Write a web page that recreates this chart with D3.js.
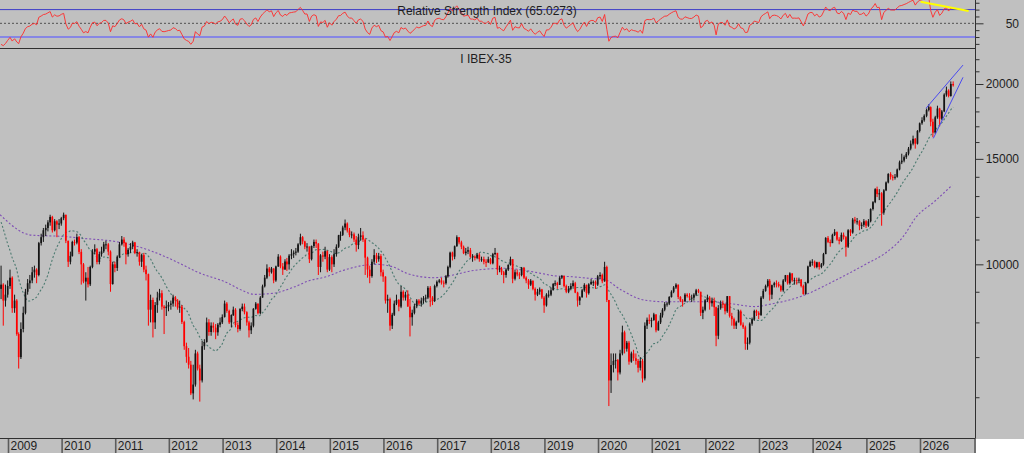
<!DOCTYPE html>
<html>
<head>
<meta charset="utf-8">
<title>IBEX-35</title>
<script src="https://cdnjs.cloudflare.com/ajax/libs/d3/7.8.5/d3.min.js"></script>
<style>
  html, body { margin: 0; padding: 0; background: #ffffff; overflow: hidden; }
  .chart svg { display: block; font-family: "Liberation Sans", Arial, sans-serif; }
</style>
</head>
<body>
<div class="chart"></div>
<script>
//semi-monthly candles (two per month), nov 2008 - aug 2026
//apr - oct 2008 closes, only used to warm up the indicators
var priorCloses = [13300, 13800, 13900, 13600, 12800, 12000, 11400, 11900, 11800, 11700, 11400, 11000, 9500, 9100];

var closes = [
  9250, 8700, 8900, 9200,
  9500, 8450, 8700, 7650, 7000, 7800, 8300, 9000, 9300, 9400, 9700, 9800,
  9600, 10850, 11100, 11400, 11500, 11750, 12000, 11400, 11800, 11650, 11700, 11940,
  12100, 10950, 10100, 10330, 10900, 10870, 11100, 10490, 10000, 9360, 9500, 9260,
  9900, 10500, 10600, 10090, 10400, 10510, 10800, 10800, 10500, 9270, 10000, 9860,
  10300, 10800, 11000, 10850, 10400, 10580, 10700, 10880, 10450, 10480, 10100, 10360,
  9800, 9630, 8400, 8720, 8000, 8550, 8800, 8950, 8500, 8450, 8500, 8560,
  8600, 8800, 8700, 8470, 8500, 8010, 7300, 7010, 6800, 6090, 6300, 7100,
  6700, 6400, 7300, 7420, 8000, 7710, 7900, 7840, 7700, 7930, 8000, 8170,
  8600, 8360, 8000, 8230, 8400, 7920, 7800, 8420, 8500, 8320, 8000, 7760,
  7900, 8430, 8600, 8290, 8800, 9190, 9500, 9840, 9700, 9840, 9400, 9920,
  10300, 9920, 9800, 10110, 10000, 10340, 10400, 10460, 10500, 10800, 11100, 10920,
  10700, 10710, 10200, 10730, 10900, 10830, 9900, 10350, 10300, 10520, 9800, 10280,
  10000, 10400, 10700, 11180, 11200, 11520, 11700, 11390, 11200, 11220, 11000, 10770,
  11100, 11180, 11000, 10260, 9800, 9560, 10100, 10360, 10200, 10320, 9700, 9540,
  8700, 8750, 7900, 8240, 8600, 8720, 8500, 9000, 8800, 8900, 8500, 8160,
  8300, 8510, 8700, 8600, 8700, 8780, 8800, 9140, 8800, 8690, 9200, 9350,
  9400, 9320, 9300, 9550, 9900, 10460, 10300, 10720, 11100, 10880, 10700, 10440,
  10500, 10560, 10300, 10300, 10250, 10380, 10200, 10200, 10100, 10080, 10200, 10040,
  10400, 10450, 9800, 9840, 9700, 9600, 9800, 9980, 10200, 9460, 9700, 9620,
  9600, 9870, 9500, 9400, 9250, 9390, 9100, 8900, 9000, 9080, 8800, 8540,
  8900, 8900, 9050, 9280, 9300, 9240, 9500, 9570, 9200, 9000, 9100, 9200,
  9300, 8970, 8700, 8810, 9050, 9240, 8950, 9260, 9350, 9350, 9250, 9550,
  9600, 9370, 9900, 8720, 6400, 6790, 6900, 6920, 6600, 7100, 7700, 7230,
  7400, 6880, 7100, 6970, 6900, 6720, 6900, 6450, 7900, 8080, 8050, 8070,
  8250, 7760, 8000, 8220, 8400, 8580, 8600, 8820, 9000, 9150, 9250, 8820,
  8700, 8680, 8900, 8850, 8800, 8800, 8900, 9050, 9000, 8300, 8400, 8710,
  8800, 8610, 8700, 8480, 7600, 8450, 8600, 8580, 8350, 8850, 8200, 8100,
  7900, 8000, 8350, 7930, 7850, 7370, 7400, 7960, 8100, 8360, 8300, 8230,
  8800, 9030, 9200, 9390, 8900, 9230, 9300, 9270, 9200, 9050, 9400, 9590,
  9300, 9660, 9400, 9410, 9400, 9430, 9200, 8920, 9300, 9920, 10100, 10100,
  9900, 10080, 9900, 10000, 10400, 11070, 10900, 10850, 11200, 11320, 11000, 10940,
  11200, 11100, 10700, 11400, 11300, 11880, 11800, 11800, 11600, 11640, 11800, 11600,
  11800, 12370, 12700, 13350, 13100, 13140, 12200, 13290, 13700, 14150, 14000, 13990,
  14000, 14400, 14800, 14900, 15100, 15300, 15600, 15900, 16200, 15900, 16700, 17200,
  17400, 17700, 18100, 18300, 17300, 16600, 17600, 18200, 17500, 18000, 19200, 19500, 19100, 20000, 19900
];

var highs = [
  9950, 9300, 9250, 9400,
  9800, 9550, 8900, 8750, 7700, 8000, 8500, 9100, 9450, 9600, 9900, 9950,
  9850, 10900, 11250, 11500, 11650, 11850, 12100, 12050, 11900, 11850, 11900, 12000,
  12200, 12100, 10950, 10500, 10950, 11000, 11250, 11150, 10600, 10050, 9700, 9900,
  9950, 10600, 10800, 10650, 10500, 10700, 10900, 10950, 10850, 10550, 10100, 10100,
  10350, 10900, 11150, 11100, 10900, 10650, 10850, 10950, 10900, 10600, 10500, 10400,
  10450, 9950, 9650, 8900, 8800, 8650, 9000, 9100, 9050, 8550, 8700, 8650,
  8700, 8900, 8850, 8750, 8700, 8550, 8050, 7400, 7250, 6900, 6800, 7200,
  7150, 6800, 7450, 7500, 8150, 8100, 8000, 8000, 7950, 7980, 8150, 8250,
  8700, 8650, 8400, 8250, 8500, 8450, 8000, 8450, 8600, 8600, 8350, 8050,
  8000, 8450, 8650, 8600, 8850, 9250, 9600, 10000, 9900, 9900, 9850, 9950,
  10400, 10350, 10050, 10200, 10250, 10400, 10600, 10550, 10650, 10850, 11250, 11150,
  10950, 10850, 10700, 10750, 11000, 11000, 10850, 10400, 10500, 10700, 10550, 10400,
  10350, 10600, 10800, 11200, 11350, 11600, 11880, 11750, 11500, 11350, 11300, 11150,
  11250, 11500, 11350, 11050, 10300, 9950, 10200, 10600, 10450, 10450, 10400, 9800,
  9550, 8900, 8800, 8300, 8700, 8900, 8750, 9200, 9050, 9000, 9050, 8750,
  8400, 8600, 8750, 8750, 8800, 8850, 8900, 9200, 9200, 8850, 9250, 9400,
  9450, 9500, 9400, 9600, 9950, 10500, 10500, 10750, 11180, 11100, 10950, 10750,
  10650, 10700, 10650, 10400, 10350, 10450, 10450, 10300, 10300, 10200, 10300, 10250,
  10450, 10650, 10400, 9950, 9900, 9750, 9850, 10000, 10300, 10200, 9800, 9800,
  9700, 9900, 9900, 9550, 9450, 9450, 9400, 9150, 9100, 9150, 9100, 8850,
  8950, 9050, 9150, 9300, 9400, 9350, 9550, 9600, 9550, 9250, 9200, 9300,
  9400, 9350, 9000, 8850, 9100, 9300, 9250, 9300, 9450, 9400, 9400, 9600,
  9700, 9650, 10100, 9950, 8700, 7100, 7100, 7100, 6950, 7200, 7900, 7750,
  7450, 7450, 7150, 7200, 7100, 6950, 7000, 6950, 8000, 8150, 8250, 8150,
  8300, 8250, 8050, 8300, 8450, 8650, 8650, 8850, 9050, 9200, 9300, 9250,
  8850, 8750, 8950, 8950, 8950, 8900, 8950, 9100, 9100, 9000, 8500, 8750,
  8900, 8850, 8800, 8800, 8500, 8550, 8700, 8700, 8600, 8850, 8850, 8300,
  8150, 8050, 8400, 8400, 8000, 7900, 7550, 8000, 8150, 8400, 8400, 8350,
  8850, 9100, 9250, 9450, 9450, 9250, 9350, 9400, 9350, 9250, 9450, 9600,
  9600, 9700, 9650, 9500, 9500, 9500, 9450, 9250, 9350, 9950, 10150, 10200,
  10150, 10100, 10100, 10050, 10450, 11100, 11150, 11000, 11250, 11450, 11350, 11100,
  11300, 11300, 11150, 11450, 11450, 11950, 12000, 11950, 11850, 11750, 11900, 11850,
  11900, 12400, 12750, 13400, 13480, 13350, 13200, 13350, 13750, 14200, 14250, 14100,
  14150, 14450, 14900, 15300, 15200, 15400, 15700, 16100, 16400, 16250, 16750, 17250,
  17600, 17800, 18200, 18500, 18350, 17500, 17700, 18400, 18250, 18100, 19300, 19800, 19600, 20200, 20200
];

var lows = [
  8750, 7900, 8500, 8800,
  9100, 8300, 8300, 7600, 6700, 6950, 7700, 8250, 8900, 9100, 9300, 9500,
  9300, 9550, 10750, 10900, 11150, 11350, 11600, 11300, 11350, 11100, 11450, 11600,
  11850, 10850, 9900, 10000, 10300, 10750, 10800, 10400, 9250, 9300, 8700, 9150,
  9200, 9850, 10400, 10000, 10000, 10300, 10450, 10600, 10350, 9000, 9250, 9700,
  9750, 10250, 10750, 10700, 10000, 10300, 10450, 10600, 10400, 10300, 9950, 9900,
  9700, 9400, 7900, 8000, 7550, 7800, 8300, 8700, 8400, 7650, 8200, 8350,
  8400, 8500, 8500, 8400, 8300, 7950, 7200, 6850, 6700, 6050, 5950, 6250,
  6650, 5900, 6350, 7200, 7400, 7600, 7600, 7700, 7500, 7600, 7850, 7950,
  8150, 8300, 7950, 7850, 8200, 7850, 7700, 7750, 8350, 8250, 7900, 7550,
  7650, 7850, 8400, 8250, 8250, 8800, 9150, 9450, 9550, 9650, 9300, 9350,
  9900, 9850, 9600, 9800, 9750, 9800, 10200, 10250, 10350, 10450, 10750, 10800,
  10600, 10500, 10050, 10150, 10650, 10650, 9600, 9700, 10100, 10200, 9700, 9750,
  9700, 9900, 10300, 10650, 10950, 11150, 11400, 11300, 11100, 11050, 10900, 10500,
  10600, 10950, 10900, 9600, 9500, 9300, 9500, 10000, 10050, 10100, 9550, 9350,
  8600, 8300, 7750, 7800, 8200, 8550, 8350, 8450, 8700, 8700, 8500, 7580,
  7900, 8250, 8450, 8550, 8500, 8600, 8650, 8750, 8500, 8550, 8650, 9150,
  9300, 9250, 9150, 9250, 9500, 9850, 10150, 10200, 10700, 10800, 10600, 10400,
  10350, 10400, 10250, 10100, 10150, 10200, 10100, 10100, 10000, 9900, 10050, 10000,
  10000, 10350, 9600, 9700, 9600, 9300, 9500, 9750, 9950, 9300, 9400, 9550,
  9450, 9550, 9450, 9300, 9100, 9200, 9050, 8700, 8850, 8900, 8750, 8300,
  8500, 8800, 8850, 9050, 9200, 9100, 9250, 9450, 9150, 8950, 8950, 9050,
  9150, 8950, 8500, 8550, 8800, 9000, 8800, 8900, 9250, 9200, 9100, 9200,
  9450, 9300, 9350, 8650, 5800, 6100, 6600, 6700, 6400, 6550, 7050, 7100,
  7150, 6800, 6850, 6900, 6800, 6600, 6650, 6350, 6400, 7800, 7950, 7850,
  8050, 7700, 7750, 7950, 8150, 8350, 8500, 8550, 8800, 8950, 9100, 8750,
  8650, 8500, 8650, 8800, 8700, 8650, 8700, 8850, 8950, 8200, 8100, 8350,
  8650, 8400, 8500, 8200, 7300, 7500, 8400, 8450, 8250, 8300, 8150, 7900,
  7800, 7800, 8000, 7900, 7800, 7200, 7200, 7350, 7900, 8050, 8200, 8100,
  8200, 8750, 9000, 9150, 8700, 8750, 9150, 9150, 9150, 9000, 9000, 9350,
  9250, 9250, 9350, 9250, 9250, 9300, 9150, 8900, 8900, 9300, 9900, 9950,
  9850, 9850, 9800, 9850, 9950, 10400, 10850, 10700, 10850, 11150, 10950, 10800,
  10900, 11000, 10300, 10650, 11150, 11250, 11700, 11650, 11400, 11450, 11550, 11500,
  11550, 11750, 12300, 12650, 12950, 12800, 11600, 12100, 13250, 13650, 13850, 13800,
  13850, 13950, 14350, 14700, 14800, 15000, 15200, 15500, 15800, 15600, 15850, 16600,
  17100, 17300, 17600, 18000, 17000, 16300, 16500, 17500, 17000, 17400, 17950, 19050, 19000, 19050, 19800
];

//long (purple) moving average
var longMaMonths = ["2008-11", "2009-06", "2010-02", "2010-05", "2011-01", "2011-06", "2011-12", "2012-04",
  "2012-07", "2013-02", "2013-05", "2013-08", "2013-12", "2014-05", "2014-08", "2014-12", "2015-04",
  "2015-08", "2015-11", "2016-03", "2016-06", "2016-12", "2017-05", "2017-08", "2017-12", "2018-04",
  "2018-08", "2018-12", "2019-03", "2019-07", "2019-11", "2020-02", "2020-06", "2020-11", "2021-04",
  "2021-09", "2022-02", "2022-07", "2022-12", "2023-03", "2023-10", "2024-06", "2025-01", "2025-05",
  "2025-09", "2025-12", "2026-04", "2026-08"];
var longMaValues = [12100, 11190, 11120, 11060, 10910, 10700, 10300, 9970,
  9720, 9300, 9060, 8910, 8945, 9175, 9380, 9535, 9780,
  9950, 10000, 9900, 9660, 9500, 9620, 9740, 9820, 9850,
  9780, 9660, 9570, 9535, 9475, 9440, 9060, 8720, 8660,
  8660, 8660, 8585, 8500, 8570, 8830, 9415, 10040, 10430,
  11120, 12010, 12720, 13560];

//drawn trend lines
var upperChannelDates = ["2026-02-04", "2026-10-14"];
var upperChannelValues = [18220, 21510];
var lowerChannelDates = ["2026-03-26", "2026-10-14"];
var lowerChannelValues = [16230, 20520];
var rsiTrendDates = ["2025-12-29", "2026-11-21"];
var rsiTrendValues = [81.5, 68];

//axis ticks
var yearTicks = [2009, 2010, 2011, 2012, 2013, 2014, 2015, 2016, 2017, 2018, 2019, 2020, 2021, 2022, 2023, 2024, 2025, 2026];
var priceLabels = [10000, 15000, 20000];
var priceMinorTicks = [6000, 7000, 8000, 9000, 11000, 12000, 13000, 14000, 16000, 17000, 18000, 19000, 21000, 22000];
var rsiLabels = [50];
var rsiMinorTicks = [20, 30, 40, 60, 70, 80];

var shortMaPeriod = 15;  // 30 weeks
var rsiPeriod = 12;

//setting svg dimension
var svgWidth = 1024;
var svgHeight = 453;
var plotRight = 975.5;
var rsiTop = 0, rsiBottom = 48;
var mainTop = 49, mainBottom = 438;

var svg = d3.select(".chart")
  .append("svg")
  .attr("width", svgWidth)
  .attr("height", svgHeight);

//scales
var xScale = d3.scaleTime()
  .domain([new Date(2009, 0, 1), new Date(2026, 0, 1)])
  .range([9, 921]);

var yScale = d3.scaleLog()
  .domain([5130, 22880])
  .range([mainBottom, mainTop]);

var rsiScale = d3.scaleLinear()
  .domain([14, 84])
  .range([rsiBottom, rsiTop]);

var parseDay = d3.timeParse("%Y-%m-%d");
var parseMonth = d3.timeParse("%Y-%m");

//candle dates: two per month starting nov 2008
var candleDates = closes.map((d, i) => new Date(2008, 10 + Math.floor(i / 2), i % 2 ? 23 : 8));
var opens = closes.map((c, i) => i === 0 ? priorCloses[priorCloses.length - 1] : closes[i - 1]);

//indicators from the closes
var allCloses = priorCloses.concat(closes);
var offset = priorCloses.length;

var shortMa = closes.map((c, i) => {
  var k = offset + i;
  return d3.mean(allCloses.slice(k - shortMaPeriod + 1, k + 1));
});

var rsi = [];
var avgGain = 0, avgLoss = 0;
for (var k = 1; k < allCloses.length; k++) {
  var change = allCloses[k] - allCloses[k - 1];
  var gain = Math.max(change, 0);
  var loss = Math.max(-change, 0);
  if (k <= rsiPeriod) {
    avgGain += gain / rsiPeriod;
    avgLoss += loss / rsiPeriod;
  } else {
    avgGain = (avgGain * (rsiPeriod - 1) + gain) / rsiPeriod;
    avgLoss = (avgLoss * (rsiPeriod - 1) + loss) / rsiPeriod;
  }
  if (k >= offset) rsi.push(avgLoss === 0 ? 100 : 100 - 100 / (1 + avgGain / avgLoss));
}

//background
svg.append("rect")
  .attr("width", svgWidth)
  .attr("height", svgHeight)
  .attr("fill", "#c0c0c0");

svg.append("rect")
  .attr("x", plotRight + 0.5)
  .attr("y", mainBottom + 1)
  .attr("width", svgWidth - plotRight)
  .attr("height", svgHeight - mainBottom)
  .attr("fill", "#ffffff");

svg.append("defs").append("clipPath")
  .attr("id", "mainClip")
  .append("rect")
  .attr("x", 0).attr("y", mainTop)
  .attr("width", plotRight).attr("height", mainBottom - mainTop);

svg.select("defs").append("clipPath")
  .attr("id", "rsiClip")
  .append("rect")
  .attr("x", 0).attr("y", rsiTop)
  .attr("width", plotRight).attr("height", rsiBottom - rsiTop);

// ---- rsi panel ----
var rsiGroup = svg.append("g").attr("clip-path", "url(#rsiClip)");

rsiGroup.append("line")
  .attr("x1", 0).attr("x2", plotRight)
  .attr("y1", rsiScale(70)).attr("y2", rsiScale(70))
  .attr("stroke", "#3c3cc8").attr("stroke-width", 1);

rsiGroup.append("line")
  .attr("x1", 0).attr("x2", plotRight)
  .attr("y1", rsiScale(30)).attr("y2", rsiScale(30))
  .attr("stroke", "#8686e4").attr("stroke-width", 2);

rsiGroup.append("line")
  .attr("x1", 0).attr("x2", plotRight)
  .attr("y1", rsiScale(50)).attr("y2", rsiScale(50))
  .attr("stroke", "#505050").attr("stroke-width", 1)
  .attr("stroke-dasharray", "2,2");

var rsiLine = d3.line()
  .x((d, i) => xScale(candleDates[i]))
  .y(d => rsiScale(d));

rsiGroup.append("path")
  .datum(rsi)
  .attr("d", rsiLine)
  .attr("fill", "none")
  .attr("stroke", "#ff2a2a")
  .attr("stroke-width", 0.9);

rsiGroup.append("line")
  .attr("x1", xScale(parseDay(rsiTrendDates[0]))).attr("y1", rsiScale(rsiTrendValues[0]))
  .attr("x2", xScale(parseDay(rsiTrendDates[1]))).attr("y2", rsiScale(rsiTrendValues[1]))
  .attr("stroke", "#ffff00").attr("stroke-width", 2.2);

svg.append("text")
  .attr("x", 487)
  .attr("y", 14.5)
  .attr("text-anchor", "middle")
  .attr("font-size", "12px")
  .attr("fill", "#1e1e1e")
  .text("Relative Strength Index (65.0273)");

//panel separator
svg.append("line")
  .attr("x1", 0).attr("x2", plotRight)
  .attr("y1", rsiBottom + 0.5).attr("y2", rsiBottom + 0.5)
  .attr("stroke", "#303030").attr("stroke-width", 1);

// ---- price panel ----
var chartGroup = svg.append("g")
  .attr("clip-path", "url(#mainClip)")
  .attr("id", "chart");

svg.append("text")
  .attr("x", 486)
  .attr("y", 63)
  .attr("text-anchor", "middle")
  .attr("font-size", "12px")
  .attr("fill", "#1e1e1e")
  .text("I IBEX-35");

//moving averages
var longLine = d3.line()
  .curve(d3.curveMonotoneX)
  .x((d, i) => xScale(parseMonth(longMaMonths[i])))
  .y(d => yScale(d));

chartGroup.append("path")
  .datum(longMaValues)
  .attr("d", longLine)
  .attr("fill", "none")
  .attr("stroke", "#7f4fb4")
  .attr("stroke-width", 1.1)
  .attr("stroke-dasharray", "2,2");

var shortLine = d3.line()
  .curve(d3.curveMonotoneX)
  .x((d, i) => xScale(candleDates[i]))
  .y(d => yScale(d));

chartGroup.append("path")
  .datum(shortMa)
  .attr("d", shortLine)
  .attr("fill", "none")
  .attr("stroke", "#4c7a70")
  .attr("stroke-width", 1.1)
  .attr("stroke-dasharray", "2,2");

//candles
var bodyWidth = 1.7;
var candles = chartGroup.selectAll("g.candle")
  .data(closes)
  .enter()
  .append("g")
  .attr("class", "candle");

candles.append("line")
  .attr("x1", (d, i) => xScale(candleDates[i]))
  .attr("x2", (d, i) => xScale(candleDates[i]))
  .attr("y1", (d, i) => yScale(Math.max(highs[i], opens[i], d)))
  .attr("y2", (d, i) => yScale(Math.min(lows[i], opens[i], d)))
  .attr("stroke", (d, i) => d >= opens[i] ? "#141414" : "#ff0000")
  .attr("stroke-width", 1);

candles.append("rect")
  .attr("x", (d, i) => xScale(candleDates[i]) - bodyWidth / 2)
  .attr("y", (d, i) => yScale(Math.max(opens[i], d)))
  .attr("width", bodyWidth)
  .attr("height", (d, i) => Math.max(1, yScale(Math.min(opens[i], d)) - yScale(Math.max(opens[i], d))))
  .attr("fill", (d, i) => d >= opens[i] ? "#141414" : "#ff0000");

//channel lines
chartGroup.append("line")
  .attr("x1", xScale(parseDay(upperChannelDates[0]))).attr("y1", yScale(upperChannelValues[0]))
  .attr("x2", xScale(parseDay(upperChannelDates[1]))).attr("y2", yScale(upperChannelValues[1]))
  .attr("stroke", "#4a4af0").attr("stroke-width", 1);

chartGroup.append("line")
  .attr("x1", xScale(parseDay(lowerChannelDates[0]))).attr("y1", yScale(lowerChannelValues[0]))
  .attr("x2", xScale(parseDay(lowerChannelDates[1]))).attr("y2", yScale(lowerChannelValues[1]))
  .attr("stroke", "#4a4af0").attr("stroke-width", 1);

// ---- axes ----
var axisColor = "#303030";
var labelColor = "#1e1e1e";

function styleAxis(g) {
  g.select(".domain").remove();
  g.selectAll("line").attr("stroke", axisColor);
  g.selectAll("text")
    .attr("fill", labelColor)
    .attr("font-size", "12px")
    .attr("font-family", "'Liberation Sans', Arial, sans-serif")
    .attr("text-anchor", "end")
    .attr("x", 1019 - plotRight);
}

svg.append("g")
  .attr("transform", `translate(${plotRight}, 0)`)
  .call(d3.axisRight(yScale).tickValues(priceMinorTicks).tickSize(4).tickFormat(""))
  .call(styleAxis);

svg.append("g")
  .attr("transform", `translate(${plotRight}, 0)`)
  .call(d3.axisRight(yScale).tickValues(priceLabels).tickSize(8).tickFormat(d3.format("d")))
  .call(styleAxis);

svg.append("g")
  .attr("transform", `translate(${plotRight}, 0)`)
  .call(d3.axisRight(rsiScale).tickValues(rsiMinorTicks).tickSize(4).tickFormat(""))
  .call(styleAxis);

svg.append("g")
  .attr("transform", `translate(${plotRight}, 0)`)
  .call(d3.axisRight(rsiScale).tickValues(rsiLabels).tickSize(8).tickFormat(d3.format("d")))
  .call(styleAxis);

//frame lines
svg.append("line")
  .attr("x1", plotRight).attr("x2", plotRight)
  .attr("y1", 0).attr("y2", mainBottom + 0.5)
  .attr("stroke", axisColor).attr("stroke-width", 1);

svg.append("line")
  .attr("x1", 0).attr("x2", plotRight)
  .attr("y1", mainBottom + 0.5).attr("y2", mainBottom + 0.5)
  .attr("stroke", axisColor).attr("stroke-width", 1);

//year cells along the bottom
var years = svg.selectAll("g.year")
  .data(yearTicks)
  .enter()
  .append("g")
  .attr("class", "year");

years.append("line")
  .attr("x1", d => xScale(new Date(d, 0, 1)) - 0.5)
  .attr("x2", d => xScale(new Date(d, 0, 1)) - 0.5)
  .attr("y1", mainBottom + 1)
  .attr("y2", svgHeight)
  .attr("stroke", "#5c5c5c")
  .attr("stroke-width", 1.6);

years.append("text")
  .attr("x", d => xScale(new Date(d, 0, 1)) + 1.5)
  .attr("y", 450)
  .attr("font-size", "12px")
  .attr("fill", labelColor)
  .text(d => d);

svg.append("line")
  .attr("x1", plotRight - 0.5).attr("x2", plotRight - 0.5)
  .attr("y1", mainBottom + 1).attr("y2", svgHeight)
  .attr("stroke", "#5c5c5c").attr("stroke-width", 1.6);
</script>
</body>
</html>
